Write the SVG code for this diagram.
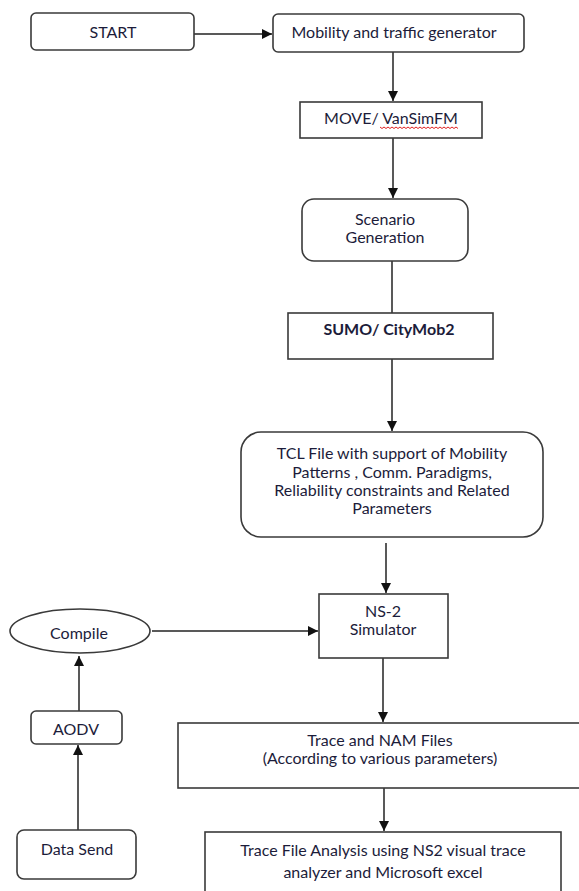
<svg xmlns="http://www.w3.org/2000/svg" width="579" height="891" viewBox="0 0 579 891">
<style>
.box{fill:#fff;stroke:#3a3a3a;stroke-width:1.6}
.t{font-family:Lato,"Liberation Sans",sans-serif;font-size:16px;fill:#1c1c3a;text-anchor:middle;dominant-baseline:central}
.b{font-weight:bold}
.c{stroke:#222;stroke-width:1.5;fill:none}
</style>
<defs>
<marker id="ah" markerUnits="userSpaceOnUse" markerWidth="11" markerHeight="11" refX="10" refY="5" orient="auto">
<path d="M0,0 L10,5 L0,10 z" fill="#111"/>
</marker>
</defs>
<rect width="579" height="891" fill="#fff"/>
<g id="connectors">
<line class="c" x1="192" y1="34" x2="272" y2="34" marker-end="url(#ah)"/>
<line class="c" x1="393" y1="52" x2="393" y2="101" marker-end="url(#ah)"/>
<line class="c" x1="393" y1="138" x2="393" y2="198" marker-end="url(#ah)"/>
<line class="c" x1="392" y1="261" x2="392" y2="313"/>
<line class="c" x1="392" y1="359" x2="392" y2="431" marker-end="url(#ah)"/>
<line class="c" x1="386" y1="543" x2="386" y2="593" marker-end="url(#ah)"/>
<line class="c" x1="152" y1="631" x2="318" y2="631" marker-end="url(#ah)"/>
<line class="c" x1="383" y1="658" x2="383" y2="722" marker-end="url(#ah)"/>
<line class="c" x1="384" y1="788" x2="384" y2="831" marker-end="url(#ah)"/>
<line class="c" x1="79" y1="711" x2="79" y2="656" marker-end="url(#ah)"/>
<line class="c" x1="78" y1="830" x2="78" y2="745" marker-end="url(#ah)"/>
</g>
<g id="start">
<rect class="box" x="31" y="13" width="163" height="37" rx="5"/>
<text class="t" x="113" y="31">START</text>
</g>
<g id="mobility">
<rect class="box" x="273" y="14" width="251" height="38" rx="5"/>
<text class="t" x="394" y="31">Mobility and traffic generator</text>
</g>
<g id="move">
<rect class="box" x="300" y="102" width="182" height="36"/>
<text class="t" x="391" y="117">MOVE/ VanSimFM</text>
<path d="M380,127 l2,1.5 l2,-1.5 l2,1.5 l2,-1.5 l2,1.5 l2,-1.5 l2,1.5 l2,-1.5 l2,1.5 l2,-1.5 l2,1.5 l2,-1.5 l2,1.5 l2,-1.5 l2,1.5 l2,-1.5 l2,1.5 l2,-1.5 l2,1.5 l2,-1.5 l2,1.5 l2,-1.5 l2,1.5 l2,-1.5 l2,1.5 l2,-1.5 l2,1.5 l2,-1.5 l2,1.5 l2,-1.5 l2,1.5 l2,-1.5 l2,1.5 l2,-1.5 l2,1.5 l2,-1.5 l2,1.5 l2,-1.5 l2,1.5" fill="none" stroke="#e02020" stroke-width="1"/>
</g>
<g id="scenario">
<rect class="box" x="302" y="199" width="166" height="62" rx="12"/>
<text class="t" x="385" y="218">Scenario</text>
<text class="t" x="385" y="236">Generation</text>
</g>
<g id="sumo">
<rect class="box" x="288" y="313" width="205" height="46"/>
<text class="t b" x="389" y="328">SUMO/ CityMob2</text>
</g>
<g id="tcl">
<rect class="box" x="241" y="432" width="302" height="105" rx="20"/>
<text class="t" x="392" y="452">TCL File with support of Mobility</text>
<text class="t" x="392" y="471">Patterns , Comm. Paradigms,</text>
<text class="t" x="392" y="489">Reliability constraints and Related</text>
<text class="t" x="392" y="507">Parameters</text>
</g>
<g id="ns2">
<rect class="box" x="319" y="594" width="129" height="64"/>
<text class="t" x="383" y="610">NS-2</text>
<text class="t" x="383" y="628">Simulator</text>
</g>
<g id="compile">
<ellipse class="box" cx="80" cy="631" rx="70" ry="22"/>
<text class="t" x="79" y="632">Compile</text>
</g>
<g id="aodv">
<rect class="box" x="31" y="711" width="91" height="33" rx="5"/>
<text class="t" x="76" y="728">AODV</text>
</g>
<g id="datasend">
<rect class="box" x="17" y="830" width="119" height="49" rx="7"/>
<text class="t" x="77" y="848">Data Send</text>
</g>
<g id="trace">
<rect class="box" x="178" y="723" width="420" height="65"/>
<text class="t" x="380" y="739">Trace and NAM Files</text>
<text class="t" x="380" y="757">(According to various parameters)</text>
</g>
<g id="analysis">
<rect class="box" x="205" y="832" width="356" height="80"/>
<text class="t" x="383" y="849">Trace File Analysis using NS2 visual trace</text>
<text class="t" x="383" y="871">analyzer and Microsoft excel</text>
</g>
</svg>
